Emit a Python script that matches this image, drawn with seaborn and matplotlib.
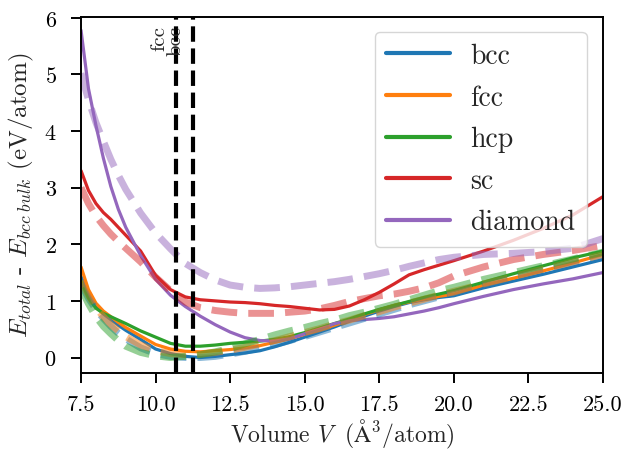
import numpy as np
import pandas as pd
import seaborn as sns
import matplotlib
matplotlib.use("Agg")
import matplotlib.pyplot as plt
from matplotlib.lines import Line2D

# Volume grid (Å^3/atom)
volume = [7.5, 7.75, 8.0, 8.25, 8.5, 8.75, 9.0, 9.5, 10.0, 10.5, 11.0, 11.5, 12.0, 12.5,
          13.0, 13.5, 14.0, 14.5, 15.0, 15.5, 16.0, 16.5, 17.0, 17.5, 18.0, 18.5,
          19.0, 19.5, 20.0, 21.0, 22.0, 23.0, 24.0, 25.0]

structures = ["bcc", "fcc", "hcp", "sc", "diamond"]

# Reference energies, E_total - E_bcc bulk (eV/atom)
bcc_ref = [1.43, 1.12, 0.90, 0.77, 0.67, 0.57, 0.48, 0.32, 0.15, 0.07, 0.02, 0.00, 0.02,
           0.05, 0.08, 0.12, 0.19, 0.27, 0.36, 0.45, 0.54, 0.64, 0.73, 0.82, 0.90,
           0.97, 1.02, 1.06, 1.09, 1.23, 1.35, 1.47, 1.60, 1.73]
fcc_ref = [1.60, 1.20, 0.96, 0.82, 0.72, 0.62, 0.53, 0.38, 0.23, 0.15, 0.11, 0.10, 0.12,
           0.14, 0.17, 0.21, 0.27, 0.33, 0.41, 0.49, 0.57, 0.66, 0.76, 0.84, 0.92,
           0.98, 1.03, 1.08, 1.12, 1.28, 1.40, 1.53, 1.67, 1.82]
hcp_ref = [1.35, 1.05, 0.87, 0.78, 0.72, 0.66, 0.60, 0.47, 0.36, 0.25, 0.20, 0.20, 0.22,
           0.25, 0.27, 0.29, 0.32, 0.37, 0.44, 0.52, 0.60, 0.68, 0.77, 0.85, 0.92,
           0.99, 1.06, 1.12, 1.18, 1.33, 1.48, 1.62, 1.76, 1.88]
sc_ref = [3.30, 2.95, 2.72, 2.56, 2.44, 2.30, 2.16, 1.88, 1.45, 1.20, 1.07, 1.02, 1.00,
          0.98, 0.97, 0.95, 0.92, 0.90, 0.87, 0.84, 0.85, 0.91, 1.02, 1.15, 1.30,
          1.46, 1.55, 1.63, 1.71, 1.88, 2.07, 2.28, 2.52, 2.84]
diamond_ref = [5.78, 4.75, 4.10, 3.52, 3.02, 2.62, 2.30, 1.80, 1.38, 1.10, 0.90, 0.73, 0.58,
               0.45, 0.35, 0.30, 0.29, 0.33, 0.42, 0.50, 0.60, 0.65, 0.67, 0.69, 0.72,
               0.77, 0.82, 0.88, 0.95, 1.08, 1.20, 1.30, 1.39, 1.50]

# Model predictions on the same grid
bcc_model = [1.30, 1.05, 0.85, 0.69, 0.55, 0.43, 0.33, 0.17, 0.07, 0.02, 0.00, 0.00, 0.02,
             0.06, 0.11, 0.17, 0.23, 0.30, 0.37, 0.45, 0.53, 0.61, 0.69, 0.77, 0.85,
             0.93, 1.00, 1.07, 1.14, 1.28, 1.41, 1.54, 1.66, 1.78]
fcc_model = [1.35, 1.10, 0.88, 0.72, 0.58, 0.47, 0.37, 0.22, 0.12, 0.07, 0.05, 0.06, 0.09,
             0.13, 0.18, 0.24, 0.30, 0.37, 0.44, 0.51, 0.59, 0.66, 0.74, 0.81, 0.89,
             0.96, 1.03, 1.10, 1.17, 1.30, 1.43, 1.56, 1.69, 1.82]
hcp_model = [1.22, 0.95, 0.72, 0.55, 0.42, 0.30, 0.20, 0.09, 0.03, 0.00, 0.02, 0.05, 0.10,
             0.16, 0.24, 0.32, 0.40, 0.47, 0.53, 0.60, 0.66, 0.74, 0.80, 0.87, 0.94,
             1.02, 1.10, 1.18, 1.24, 1.38, 1.50, 1.62, 1.74, 1.86]
sc_model = [3.00, 2.72, 2.50, 2.33, 2.18, 2.05, 1.93, 1.69, 1.42, 1.18, 0.98, 0.88, 0.83,
            0.80, 0.78, 0.78, 0.78, 0.80, 0.82, 0.86, 0.92, 0.99, 1.04, 1.09, 1.12,
            1.17, 1.23, 1.32, 1.44, 1.60, 1.73, 1.82, 1.89, 1.98]
diamond_model = [5.02, 4.55, 4.15, 3.82, 3.50, 3.22, 2.97, 2.55, 2.20, 1.92, 1.66, 1.50, 1.37,
                 1.28, 1.24, 1.22, 1.23, 1.25, 1.28, 1.31, 1.34, 1.38, 1.43, 1.48, 1.54,
                 1.61, 1.67, 1.73, 1.77, 1.82, 1.84, 1.87, 1.93, 2.10]

# Equilibrium volumes marked with vertical lines
eq_labels = ["fcc", "bcc"]
eq_volumes = [10.7, 11.25]

ref_series = [bcc_ref, fcc_ref, hcp_ref, sc_ref, diamond_ref]
model_series = [bcc_model, fcc_model, hcp_model, sc_model, diamond_model]

sns.set_style("white")
plt.rcParams.update({
    "font.family": ["cmr10", "DejaVu Serif"],
    "mathtext.fontset": "cm",
    "axes.formatter.use_mathtext": True,
    "axes.edgecolor": "black",
    "axes.linewidth": 1.4,
    "xtick.bottom": True,
    "ytick.left": True,
    "xtick.direction": "out",
    "ytick.direction": "out",
    "xtick.major.size": 7.5,
    "ytick.major.size": 7.5,
    "xtick.major.width": 1.4,
    "ytick.major.width": 1.4,
    "xtick.major.pad": 8,
    "ytick.major.pad": 10,
    "xtick.color": "black",
    "ytick.color": "black",
})

palette = sns.color_palette("tab10", 5)

fig = plt.figure(figsize=(6.28, 4.52), dpi=100)
ax = fig.add_axes([0.129, 0.173, 0.831, 0.788])

for name, ys, col in zip(structures, ref_series, palette):
    sns.lineplot(x=volume, y=ys, color=col, lw=2.3, ax=ax, legend=False)

for name, ys, col in zip(structures, model_series, palette):
    sns.lineplot(x=volume, y=ys, color=col, lw=5, alpha=0.5, linestyle="--",
                 ax=ax, legend=False)

for lab, v in zip(eq_labels, eq_volumes):
    ax.axvline(v, color="black", lw=3, ls="--")
    ax.text(v - 0.28, 5.88, lab, rotation=90, ha="right", va="top", fontsize=15)

handles = [Line2D([], [], color=c, lw=3) for c in palette]
leg = ax.legend(handles, structures, loc="upper right", bbox_to_anchor=(0.969, 0.958),
                borderaxespad=0, fontsize=20, handlelength=2.3, handletextpad=0.75,
                labelspacing=0.55, borderpad=0.4, framealpha=0.8, fancybox=True,
                edgecolor="0.8")

ax.set_xlim(7.5, 25.0)
ax.set_ylim(-0.27, 6.02)
ax.set_xticks([7.5, 10.0, 12.5, 15.0, 17.5, 20.0, 22.5, 25.0])
ax.set_xticklabels(["7.5", "10.0", "12.5", "15.0", "17.5", "20.0", "22.5", "25.0"])
ax.set_yticks([0, 1, 2, 3, 4, 5, 6])
ax.tick_params(labelsize=16)

ax.set_xlabel(r"Volume $V\;$ ($\mathrm{\AA}^3$/atom)", fontsize=17, labelpad=2)
ax.set_ylabel(r"$E_{total}$ - $E_{bcc\ bulk}$ (eV/atom)", fontsize=18, labelpad=6)

for sp in ax.spines.values():
    sp.set_visible(True)
    sp.set_color("black")

fig.savefig("out.png", dpi=100)
